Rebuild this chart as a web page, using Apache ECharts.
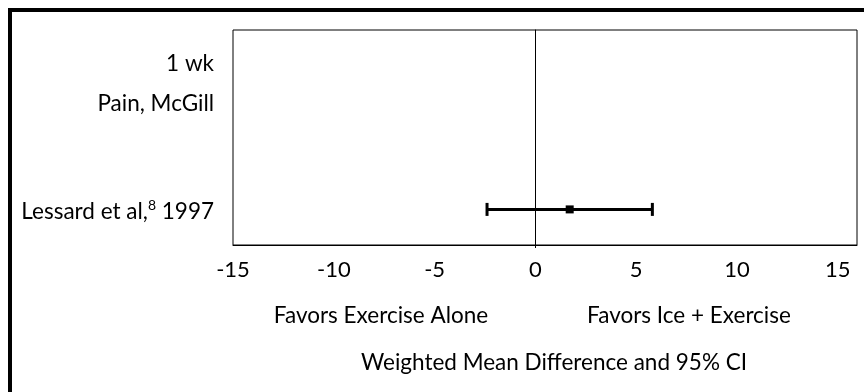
<!DOCTYPE html>
<html>
<head>
<meta charset="utf-8">
<script src="https://cdn.jsdelivr.net/npm/echarts@6/dist/echarts.min.js"></script>
<style>
  html, body { margin: 0; padding: 0; background: #fff; }
  #chart { width: 864px; height: 392px; }
</style>
</head>
<body>
<div id="chart"></div>
<script>
// ---- data ----
const rowLabels = [
  '', '', '1 wk', '', '', 'Pain, McGill', '', '', '', '', '', '', '',
  'Lessard et al,{sup|8} 1997', '', ''
];
const studyRow = [13];
const meanDiff = [1.7];
const ciLower = [-2.4];
const ciUpper = [5.8];
const nullEffect = [0];
const xMin = -15;
const xTickStep = 5;
const xTickMax = 15;
const favorsLeft = 'Favors Exercise Alone';
const favorsRight = 'Favors Ice + Exercise';
const axisTitle = 'Weighted Mean Difference and 95% CI';

const FONT = 'Lato';
const TXT = 22.5;
const chart = echarts.init(document.getElementById('chart'), null, { renderer: 'canvas' });

const ciData = meanDiff.map((m, i) => [m, ciLower[i], ciUpper[i], studyRow[i]]);
const zeroData = nullEffect.map(v => [v, 0]);

chart.setOption({
  animation: false,
  backgroundColor: '#fff',
  grid: {
    left: 233, top: 30, right: 7, bottom: 147,
    show: true, borderColor: '#000', borderWidth: 1, backgroundColor: 'transparent'
  },
  xAxis: {
    type: 'value',
    min: xMin,
    max: 15.95,
    interval: xTickStep,
    axisLine: { show: true, onZero: false, lineStyle: { color: '#000', width: 1 } },
    axisTick: { show: false },
    splitLine: { show: false },
    axisLabel: {
      margin: 14,
      color: '#000',
      fontFamily: FONT,
      fontSize: 22,
      showMaxLabel: false,
      formatter: v => (Math.abs(v / xTickStep - Math.round(v / xTickStep)) < 1e-9 && v <= xTickMax ? String(v) : '')
    }
  },
  yAxis: {
    type: 'category',
    inverse: true,
    data: rowLabels,
    axisLine: { show: true, lineStyle: { color: '#000', width: 1 } },
    axisTick: { show: false },
    splitLine: { show: false },
    axisLabel: {
      interval: 0,
      margin: 19,
      color: '#000',
      fontFamily: FONT,
      fontSize: TXT,
      rich: {
        sup: { fontFamily: FONT, fontSize: 14, verticalAlign: 'top', padding: [0, 0, 12, 0], color: '#000' }
      }
    }
  },
  series: [
    {
      type: 'custom',
      name: 'zero',
      data: zeroData,
      encode: { x: 0, y: 1 },
      silent: true,
      renderItem: function (params, api) {
        const cs = params.coordSys;
        const p = api.coord([api.value(0), 0]);
        const x = Math.round(p[0]) + 0.5;
        return {
          type: 'line',
          shape: { x1: x, y1: cs.y, x2: x, y2: cs.y + cs.height + 3 },
          style: { stroke: '#000', lineWidth: 1 }
        };
      },
      z: 2
    },
    {
      type: 'custom',
      name: 'ci',
      data: ciData,
      encode: { x: [0, 1, 2], y: 3 },
      renderItem: function (params, api) {
        const row = api.value(3);
        const lo = api.coord([api.value(1), row]);
        const hi = api.coord([api.value(2), row]);
        const pt = api.coord([api.value(0), row]);
        const y = pt[1] - 2;
        const capH = 6.5;
        const sq = 8;
        const st = { stroke: '#000', lineWidth: 3 };
        return {
          type: 'group',
          children: [
            { type: 'line', shape: { x1: lo[0], y1: y, x2: hi[0], y2: y }, style: st },
            { type: 'line', shape: { x1: lo[0], y1: y - capH, x2: lo[0], y2: y + capH }, style: st },
            { type: 'line', shape: { x1: hi[0], y1: y - capH, x2: hi[0], y2: y + capH }, style: st },
            { type: 'rect', shape: { x: pt[0] - sq / 2, y: y - sq / 2, width: sq, height: sq }, style: { fill: '#000' } }
          ]
        };
      },
      z: 3
    }
  ],
  graphic: [
    { type: 'rect', shape: { x: 10, y: 10, width: 900, height: 450 },
      style: { fill: 'none', stroke: '#000', lineWidth: 4 }, z: 100 },
    { type: 'text', x: 381, y: 316,
      style: { text: favorsLeft, fill: '#000', font: TXT + 'px ' + FONT, textAlign: 'center', textVerticalAlign: 'middle' } },
    { type: 'text', x: 689, y: 316,
      style: { text: favorsRight, fill: '#000', font: TXT + 'px ' + FONT, textAlign: 'center', textVerticalAlign: 'middle' } },
    { type: 'text', x: 554, y: 363,
      style: { text: axisTitle, fill: '#000', font: TXT + 'px ' + FONT, textAlign: 'center', textVerticalAlign: 'middle' } }
  ]
});
</script>
</body>
</html>
